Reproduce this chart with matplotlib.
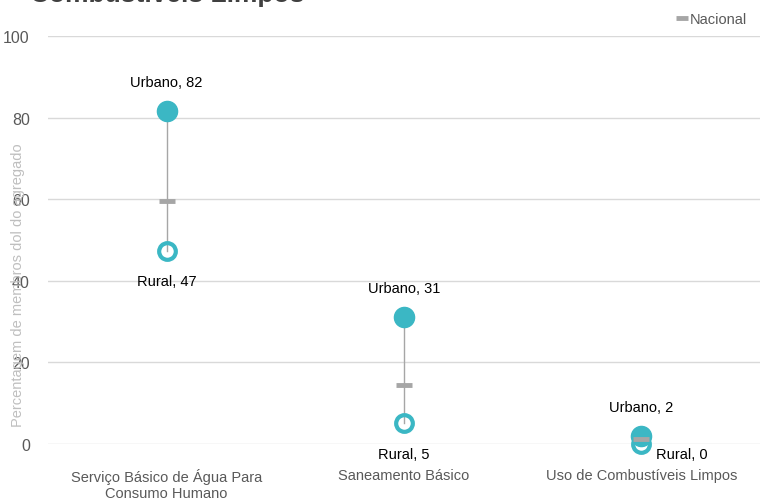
import matplotlib.pyplot as plt
from matplotlib.lines import Line2D

categorias = ['Serviço Básico de Água Para\nConsumo Humano', 'Saneamento Básico', 'Uso de Combustíveis Limpos']
urbano = [81.6, 31.1, 2.0]
rural = [47.4, 5.1, 0.0]
nacional = [59.6, 14.5, 1.2]
rotulo_urbano = ['Urbano, 82', 'Urbano, 31', 'Urbano, 2']
rotulo_rural = ['Rural, 47', 'Rural, 5', 'Rural, 0']

cor = '#3BB7C4'
cinza = '#A6A6A6'

plt.rcParams['font.family'] = ['Liberation Sans', 'DejaVu Sans']

fig = plt.figure(figsize=(7.6, 5.02), dpi=100)
ax = fig.add_axes([0.063, 0.1135, 0.937, 0.8125])

x = list(range(len(categorias)))
for i in x:
    ax.plot([i, i], [rural[i], urbano[i]], color=cinza, linewidth=1, zorder=2)

ax.plot(x, urbano, linestyle='none', marker='o', markersize=14.5, color=cor, zorder=3)
ax.plot(x, rural, linestyle='none', marker='o', markersize=12, markerfacecolor='none',
        markeredgecolor=cor, markeredgewidth=3, zorder=3)
ax.plot(x, nacional, linestyle='none', marker='_', markersize=12, markeredgewidth=3.5,
        color=cinza, zorder=4)

for i in x:
    ax.annotate(rotulo_urbano[i], (i, urbano[i]), xytext=(0, 21), textcoords='offset points',
                ha='center', va='center', fontsize=10.5, color='#000000')
    if i == 2:
        ax.annotate(rotulo_rural[i], (i, rural[i]), xytext=(29, -7), textcoords='offset points',
                    ha='center', va='center', fontsize=10.5, color='#000000')
    else:
        ax.annotate(rotulo_rural[i], (i, rural[i]), xytext=(0, -22), textcoords='offset points',
                    ha='center', va='center', fontsize=10.5, color='#000000')

ax.set_xlim(-0.5, 2.5)
ax.set_ylim(0, 100)
ax.set_yticks([0, 20, 40, 60, 80, 100])
ax.set_xticks(x)
ax.set_xticklabels(categorias, fontsize=10.5, color='#595959')
ax.tick_params(axis='y', length=0, pad=13, labelsize=11.5, labelcolor='#595959')
ax.tick_params(axis='x', length=0, pad=17)
ax.grid(axis='y', color='#D9D9D9', linewidth=1)
ax.set_axisbelow(True)
for s in ax.spines.values():
    s.set_visible(False)
for ln in ax.lines:
    ln.set_clip_on(False)

fig.text(18 / 760, 1 - 285 / 502, 'Percentagem de membros dol do agregado', rotation=90,
         ha='center', va='center', fontsize=10.5, color='#BFBFBF')

# título cortado no topo, como no original
fig.text(30 / 760, 1 - 2 / 502, 'Combustíveis Limpos', ha='left', va='baseline',
         fontsize=19, fontweight='bold', color='#404040')

leg = fig.legend(handles=[Line2D([], [], linestyle='none', marker='_', markersize=8,
                                 markeredgewidth=3.5, color=cinza)],
                 labels=['Nacional'], loc='upper right', bbox_to_anchor=(1.0, 1.0),
                 frameon=False, fontsize=10.5, handlelength=0.6, handletextpad=0.2,
                 borderaxespad=0.5)
for t in leg.get_texts():
    t.set_color('#595959')

fig.savefig('out.png', dpi=100)
